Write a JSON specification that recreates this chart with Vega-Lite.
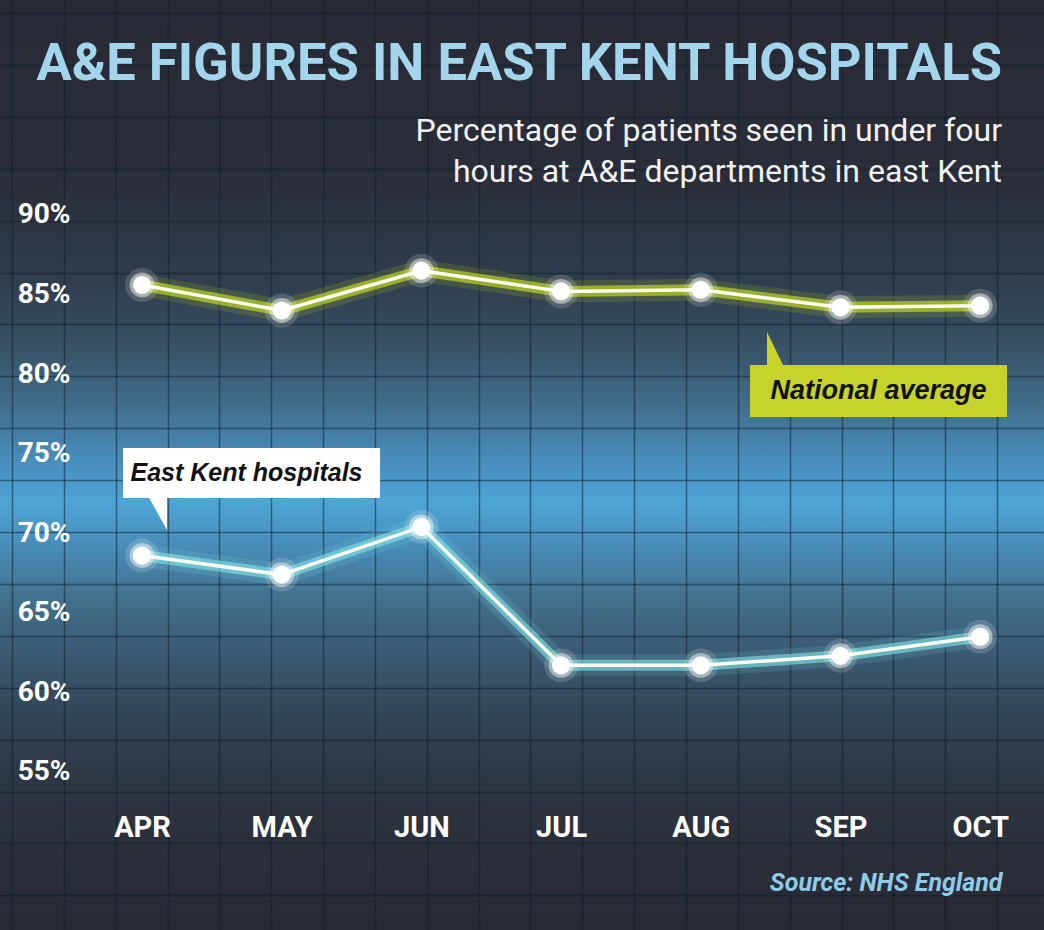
{
  "$schema": "https://vega.github.io/schema/vega-lite/v6.json",
  "width": 1044,
  "height": 930,
  "padding": 0,
  "autosize": {"type": "none"},
  "background": "#292c36",
  "view": {
    "stroke": null,
    "fill": {
      "gradient": "linear", "x1": 0, "y1": 0, "x2": 0, "y2": 1,
      "stops": [
        {"offset": 0, "color": "#282a34"},
        {"offset": 0.2, "color": "#2a2e3a"},
        {"offset": 0.3, "color": "#2f3d4c"},
        {"offset": 0.37, "color": "#385064"},
        {"offset": 0.44, "color": "#41708f"},
        {"offset": 0.5, "color": "#4890c0"},
        {"offset": 0.54, "color": "#4ea6d7"},
        {"offset": 0.58, "color": "#4990bd"},
        {"offset": 0.64, "color": "#43728f"},
        {"offset": 0.7, "color": "#3b5a73"},
        {"offset": 0.77, "color": "#324556"},
        {"offset": 0.84, "color": "#2d3643"},
        {"offset": 0.92, "color": "#2a2e39"},
        {"offset": 1, "color": "#282a33"}
      ]
    }
  },
  "title": {
    "text": "A&E FIGURES IN EAST KENT HOSPITALS",
    "subtitle": ["Percentage of patients seen in under four", "hours at A&E departments in east Kent"],
    "anchor": "end",
    "orient": "top",
    "frame": "group",
    "offset": -189,
    "dx": -42,
    "font": "Roboto",
    "fontSize": 52.5,
    "fontWeight": "bold",
    "color": "#a3d6ec",
    "subtitleFont": "Roboto",
    "subtitleFontSize": 32,
    "subtitleFontWeight": "normal",
    "subtitleColor": "#f2f2f2",
    "subtitleLineHeight": 41,
    "subtitlePadding": 25
  },
  "config": {
    "axis": {"domain": false, "ticks": false, "tickSize": 0}
  },
  "data": {
    "values": [
      {"month": "APR", "idx": 0, "series": "National average", "pct": 85.6},
      {"month": "MAY", "idx": 1, "series": "National average", "pct": 84.0},
      {"month": "JUN", "idx": 2, "series": "National average", "pct": 86.5},
      {"month": "JUL", "idx": 3, "series": "National average", "pct": 85.2},
      {"month": "AUG", "idx": 4, "series": "National average", "pct": 85.3},
      {"month": "SEP", "idx": 5, "series": "National average", "pct": 84.2},
      {"month": "OCT", "idx": 6, "series": "National average", "pct": 84.3},
      {"month": "APR", "idx": 0, "series": "East Kent hospitals", "pct": 68.6},
      {"month": "MAY", "idx": 1, "series": "East Kent hospitals", "pct": 67.4},
      {"month": "JUN", "idx": 2, "series": "East Kent hospitals", "pct": 70.4},
      {"month": "JUL", "idx": 3, "series": "East Kent hospitals", "pct": 61.7},
      {"month": "AUG", "idx": 4, "series": "East Kent hospitals", "pct": 61.7},
      {"month": "SEP", "idx": 5, "series": "East Kent hospitals", "pct": 62.3},
      {"month": "OCT", "idx": 6, "series": "East Kent hospitals", "pct": 63.5}
    ]
  },
  "resolve": {"axis": {"x": "independent", "y": "independent"}},
  "layer": [
    {
      "mark": {"type": "line", "opacity": 0},
      "encoding": {
        "x": {
          "field": "idx", "type": "quantitative",
          "scale": {"domain": [-1.0165, 6.4567], "nice": false, "zero": false},
          "axis": {
            "orient": "top", "labels": false, "title": null, "grid": true,
            "values": [-0.9306, -0.5594, -0.1883, 0.1829, 0.554, 0.9252, 1.2963, 1.6675, 2.0386, 2.4098, 2.7809, 3.1521, 3.5232, 3.8944, 4.2655, 4.6367, 5.0078, 5.379, 5.7501, 6.1213],
            "gridColor": "#0c1b2a", "gridOpacity": 0.5, "gridWidth": 1.5
          }
        },
        "y": {
          "field": "pct", "type": "quantitative",
          "scale": {"domain": [45.07, 103.51], "nice": false, "zero": false},
          "axis": {
            "orient": "right", "labels": false, "title": null, "grid": true,
            "values": [102.69, 99.43, 96.17, 92.91, 89.65, 86.38, 83.12, 79.86, 76.6, 73.34, 70.08, 66.81, 63.55, 60.29, 57.03, 53.77, 50.51, 47.25],
            "gridColor": "#0c1b2a", "gridOpacity": 0.5, "gridWidth": 1.5
          }
        },
        "detail": {"field": "series"}
      }
    },
    {
      "mark": {"type": "line", "strokeWidth": 22, "opacity": 0.14, "strokeCap": "round", "strokeJoin": "round"},
      "encoding": {
        "x": {"field": "idx", "type": "quantitative", "axis": null},
        "y": {"field": "pct", "type": "quantitative", "axis": null},
        "color": {"field": "series", "type": "nominal", "legend": null,
          "scale": {"domain": ["National average", "East Kent hospitals"], "range": ["#d2ea1c", "#82e6ea"]}}
      }
    },
    {
      "mark": {"type": "line", "strokeWidth": 11, "opacity": 0.6, "strokeCap": "round", "strokeJoin": "round"},
      "encoding": {
        "x": {"field": "idx", "type": "quantitative", "axis": null},
        "y": {"field": "pct", "type": "quantitative", "axis": null},
        "color": {"field": "series", "type": "nominal", "legend": null}
      }
    },
    {
      "mark": {"type": "line", "strokeWidth": 3.5, "color": "#fbfff0", "strokeJoin": "round"},
      "encoding": {
        "x": {"field": "idx", "type": "quantitative", "axis": null},
        "y": {"field": "pct", "type": "quantitative", "axis": null},
        "detail": {"field": "series"}
      }
    },
    {
      "mark": {"type": "circle", "size": 1150, "color": "#ffffff", "opacity": 0.16},
      "encoding": {
        "x": {"field": "idx", "type": "quantitative", "axis": null},
        "y": {"field": "pct", "type": "quantitative", "axis": null}
      }
    },
    {
      "mark": {"type": "circle", "size": 620, "color": "#ffffff", "opacity": 0.45},
      "encoding": {
        "x": {"field": "idx", "type": "quantitative", "axis": null},
        "y": {"field": "pct", "type": "quantitative", "axis": null}
      }
    },
    {
      "mark": {"type": "circle", "size": 330, "color": "#ffffff", "opacity": 1},
      "encoding": {
        "x": {
          "field": "idx", "type": "quantitative",
          "axis": {
            "orient": "bottom", "offset": -120, "grid": false,
            "values": [0, 1, 2, 3, 4, 5, 6],
            "labelExpr": "['APR','MAY','JUN','JUL','AUG','SEP','OCT'][datum.value]",
            "labelFont": "Roboto", "labelFontSize": 29, "labelFontWeight": "bold",
            "labelColor": "#ffffff", "labelBaseline": "alphabetic", "labelPadding": 26,
            "title": "Source: NHS England",
            "titleFont": "Roboto", "titleFontSize": 25, "titleFontWeight": "bold",
            "titleFontStyle": "italic", "titleColor": "#8ecbe8",
            "titleAnchor": "end", "titleAlign": "right", "titleBaseline": "middle",
            "titleX": 1002, "titleY": 72
          }
        },
        "y": {
          "field": "pct", "type": "quantitative",
          "axis": {
            "orient": "left", "offset": -70, "grid": false,
            "values": [55, 60, 65, 70, 75, 80, 85, 90],
            "labelExpr": "datum.value + '%'",
            "labelFont": "Roboto", "labelFontSize": 28, "labelFontWeight": "bold",
            "labelColor": "#ffffff", "labelPadding": 0, "labelAlign": "right", "labelBaseline": "middle",
            "title": null
          }
        }
      }
    },
    {
      "data": {"values": [{}]},
      "mark": {"type": "rect", "color": "#c7d32b"},
      "encoding": {
        "x": {"datum": 4.352, "type": "quantitative", "axis": null},
        "x2": {"datum": 6.192},
        "y": {"datum": 80.574, "type": "quantitative", "axis": null},
        "y2": {"datum": 77.307}
      }
    },
    {
      "data": {"values": [{}]},
      "mark": {"type": "point", "shape": "M0,0L0,1.8L0.87,1.8Z", "size": 1600, "filled": true, "color": "#c7d32b", "opacity": 1, "strokeWidth": 0},
      "encoding": {
        "x": {"datum": 4.474, "type": "quantitative", "axis": null},
        "y": {"datum": 82.65, "type": "quantitative", "axis": null}
      }
    },
    {
      "data": {"values": [{}]},
      "mark": {"type": "rect", "color": "#ffffff"},
      "encoding": {
        "x": {"datum": -0.136, "type": "quantitative", "axis": null},
        "x2": {"datum": 1.704},
        "y": {"datum": 75.359, "type": "quantitative", "axis": null},
        "y2": {"datum": 72.217}
      }
    },
    {
      "data": {"values": [{}]},
      "mark": {"type": "point", "shape": "M0,0L0,-1.8L-1.0,-1.8Z", "size": 1600, "filled": true, "color": "#ffffff", "opacity": 1, "strokeWidth": 0},
      "encoding": {
        "x": {"datum": 0.179, "type": "quantitative", "axis": null},
        "y": {"datum": 70.206, "type": "quantitative", "axis": null}
      }
    },
    {
      "data": {"values": [{"label": "National average"}]},
      "mark": {"type": "text", "font": "Liberation Sans", "fontSize": 27, "fontWeight": "bold", "fontStyle": "italic", "color": "#111111", "align": "center", "baseline": "middle"},
      "encoding": {
        "x": {"datum": 5.272, "type": "quantitative", "axis": null},
        "y": {"datum": 78.94, "type": "quantitative", "axis": null},
        "text": {"field": "label"}
      }
    },
    {
      "data": {"values": [{"label": "East Kent hospitals"}]},
      "mark": {"type": "text", "font": "Liberation Sans", "fontSize": 25, "fontWeight": "bold", "fontStyle": "italic", "color": "#111111", "align": "center", "baseline": "middle"},
      "encoding": {
        "x": {"datum": 0.748, "type": "quantitative", "axis": null},
        "y": {"datum": 73.79, "type": "quantitative", "axis": null},
        "text": {"field": "label"}
      }
    }
  ]
}
